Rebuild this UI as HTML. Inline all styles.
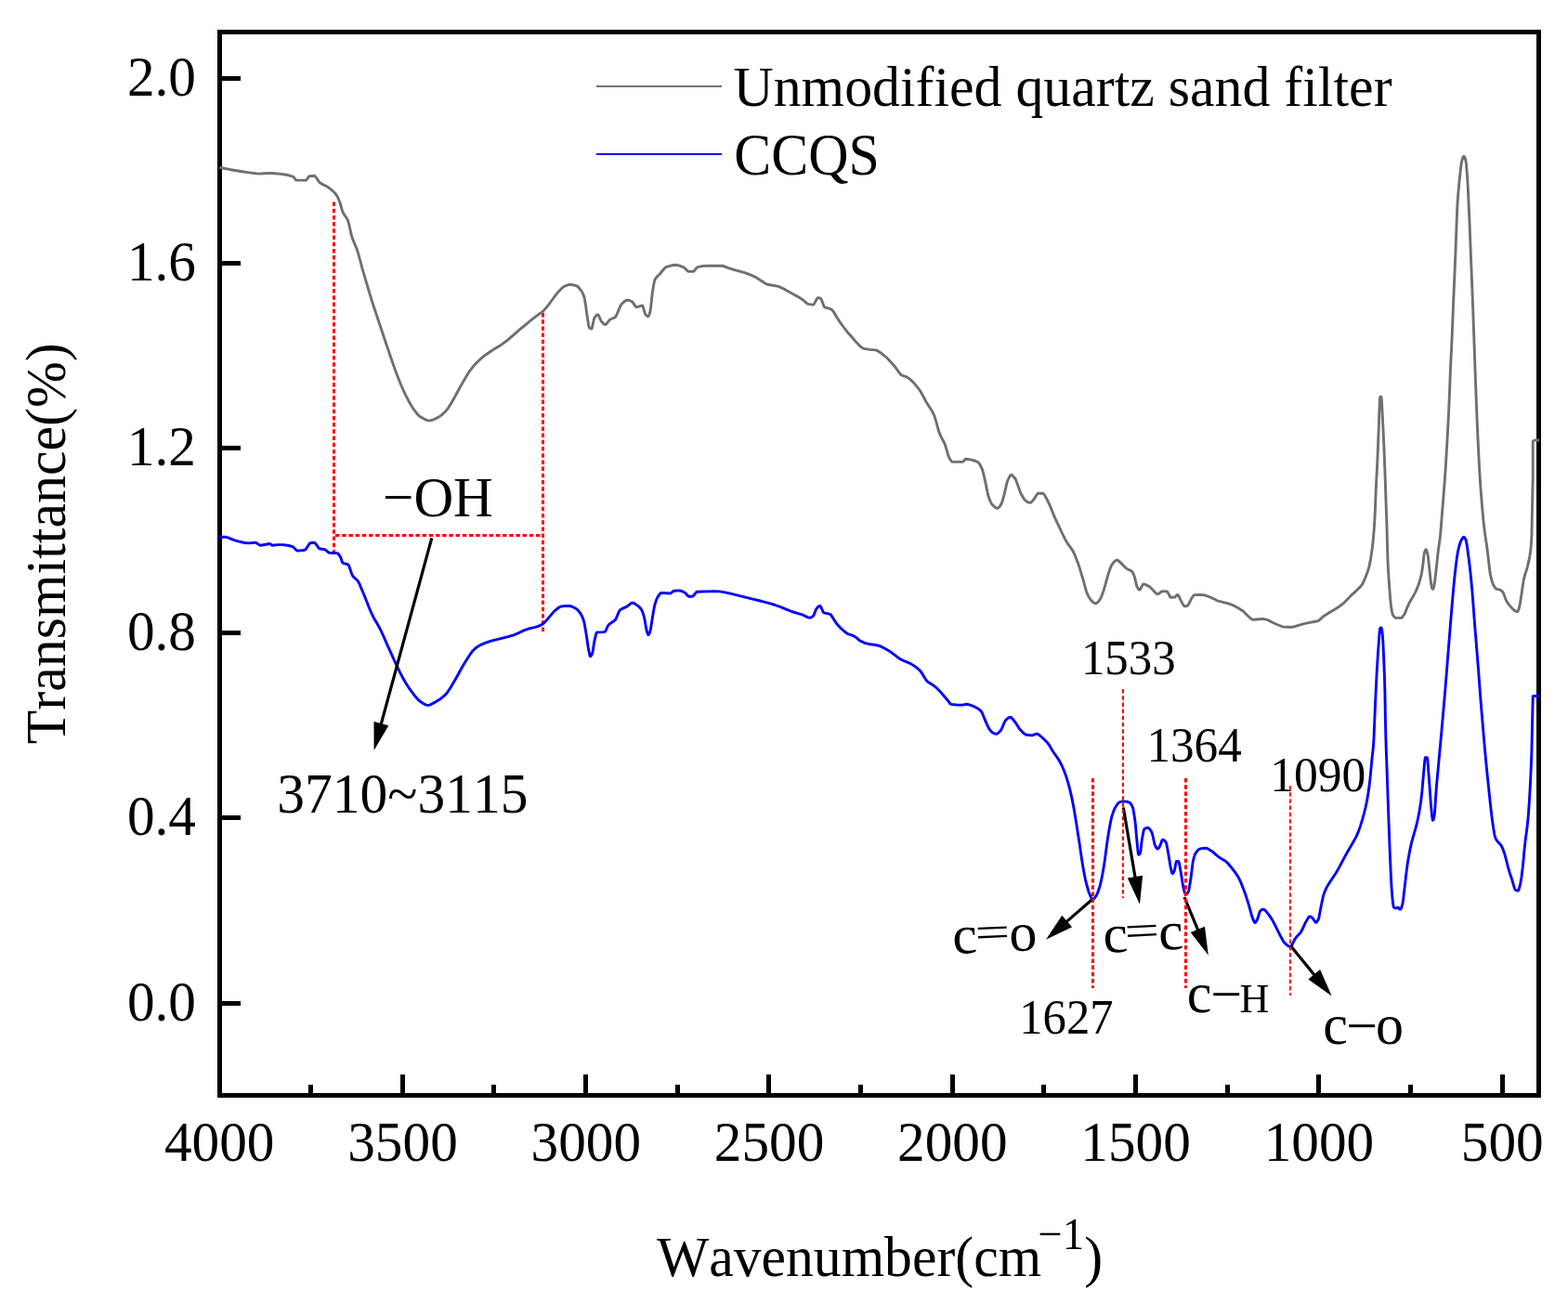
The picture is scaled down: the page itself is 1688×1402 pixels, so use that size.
<!DOCTYPE html><html><head><meta charset="utf-8"><title>FTIR</title><style>
html,body{margin:0;padding:0;background:#fff}svg{display:block}text{font-family:"Liberation Serif","Times New Roman",serif;fill:#000;font-kerning:none;font-variant-ligatures:none;white-space:pre}.b{font-weight:bold}
</style></head><body>
<svg width="1688" height="1402" viewBox="0 0 1688 1402">
<rect width="1688" height="1402" fill="#fff"/>
<g fill="#000" shape-rendering="crispEdges">
<rect x="234" y="32" width="1425" height="5"/><rect x="234" y="1177" width="1425" height="5"/><rect x="234" y="32" width="5" height="1150"/><rect x="1654" y="32" width="5" height="1150"/>
<rect x="239" y="1078" width="20" height="5"/>
<rect x="239" y="878" width="20" height="5"/>
<rect x="239" y="679" width="20" height="5"/>
<rect x="239" y="480" width="20" height="5"/>
<rect x="239" y="281" width="20" height="5"/>
<rect x="239" y="82" width="20" height="5"/>
<rect x="332" y="1168" width="5" height="9"/>
<rect x="431" y="1157" width="5" height="20"/>
<rect x="529" y="1168" width="5" height="9"/>
<rect x="628" y="1157" width="5" height="20"/>
<rect x="727" y="1168" width="5" height="9"/>
<rect x="825" y="1157" width="5" height="20"/>
<rect x="924" y="1168" width="5" height="9"/>
<rect x="1023" y="1157" width="5" height="20"/>
<rect x="1121" y="1168" width="5" height="9"/>
<rect x="1220" y="1157" width="5" height="20"/>
<rect x="1319" y="1168" width="5" height="9"/>
<rect x="1417" y="1157" width="5" height="20"/>
<rect x="1516" y="1168" width="5" height="9"/>
<rect x="1615" y="1157" width="5" height="20"/>
</g>
<text font-size="59" text-anchor="end" transform="translate(211,1098.5) scale(1.005,1.03)">0.0</text>
<text font-size="59" text-anchor="end" transform="translate(211,899.3) scale(1.005,1.03)">0.4</text>
<text font-size="59" text-anchor="end" transform="translate(211,700.1) scale(1.005,1.03)">0.8</text>
<text font-size="59" text-anchor="end" transform="translate(211,500.9) scale(1.005,1.03)">1.2</text>
<text font-size="59" text-anchor="end" transform="translate(211,301.7) scale(1.005,1.03)">1.6</text>
<text font-size="59" text-anchor="end" transform="translate(211,102.5) scale(1.005,1.03)">2.0</text>
<text font-size="59" text-anchor="middle" transform="translate(236.2,1249.5) scale(1.005,1.03)">4000</text>
<text font-size="59" text-anchor="middle" transform="translate(433.5,1249.5) scale(1.005,1.03)">3500</text>
<text font-size="59" text-anchor="middle" transform="translate(630.8,1249.5) scale(1.005,1.03)">3000</text>
<text font-size="59" text-anchor="middle" transform="translate(828.1,1249.5) scale(1.005,1.03)">2500</text>
<text font-size="59" text-anchor="middle" transform="translate(1025.3,1249.5) scale(1.005,1.03)">2000</text>
<text font-size="59" text-anchor="middle" transform="translate(1222.6,1249.5) scale(1.005,1.03)">1500</text>
<text font-size="59" text-anchor="middle" transform="translate(1419.9,1249.5) scale(1.005,1.03)">1000</text>
<text font-size="59" text-anchor="middle" transform="translate(1617.2,1249.5) scale(1.005,1.03)">500</text>
<text font-size="60" transform="translate(69.60,801.28) rotate(-90) scale(0.9974,1.0382)">Transmittance(%)</text>
<text font-size="60" transform="translate(789.54,114.40) scale(0.9967,1.0283)">Unmodified quartz sand filter</text>
<text font-size="60" transform="translate(790.34,187.50) scale(0.9983,1.0497)">CCQS</text>
<text font-size="60" transform="translate(412.05,556.20) scale(0.9857,1.0207)">−OH</text>
<text font-size="60" transform="translate(298.35,874.80) scale(0.9920,1.0371)">3710~3115</text>
<text font-size="51" transform="translate(1163.93,726.00) scale(0.9976,1.0454)">1533</text>
<text font-size="51" transform="translate(1234.40,819.90) scale(1.0039,1.0424)">1364</text>
<text font-size="51" transform="translate(1367.16,852.10) scale(1.0118,1.0467)">1090</text>
<text font-size="51" transform="translate(1097.25,1113.00) scale(0.9932,1.0424)">1627</text>
<text font-size="60" transform="translate(706.9,1374.4) scale(0.9947,1.0305)"><tspan x="0" y="0">Wavenumber(cm</tspan><tspan x="412.6" y="-28.3" font-size="47">−1</tspan><tspan x="462.9" y="0" font-size="60">)</tspan></text>
<text font-size="60" transform="translate(1426.6,1124.4) scale(1,1.01)"><tspan x="-2.28" y="0">c</tspan><tspan x="22.6" y="1.0">−</tspan><tspan x="54.3" y="0">o</tspan></text>
<text font-size="60" transform="translate(1280.1,1090.4) scale(1,1.01)"><tspan x="-2.28" y="0">c</tspan><tspan x="23.1" y="0.8">−</tspan><tspan x="54.4" y="0" font-size="44">H</tspan></text>
<text font-size="60" transform="translate(1039.4,1026.4) rotate(-2.5) scale(1,0.975)"><tspan x="-13.53" y="0">c</tspan><tspan x="11.05" y="-5.9" font-size="48" textLength="37.6" lengthAdjust="spacingAndGlyphs">=</tspan><tspan x="47.76" y="0">o</tspan></text>
<text font-size="60" transform="translate(1201.65,1025.4) rotate(-2.9) scale(1,0.975)"><tspan x="-13.53" y="0">c</tspan><tspan x="9.95" y="-6.3" font-size="48" textLength="37.6" lengthAdjust="spacingAndGlyphs">=</tspan><tspan x="46.45" y="0">c</tspan></text>
<g shape-rendering="crispEdges"><rect x="642" y="92" width="135" height="2" fill="#6f6f6f"/><rect x="642" y="165" width="135" height="2" fill="#0000ff"/></g>
<g stroke="#ff0000" fill="none">
<line x1="359.5" y1="217.5" x2="359.5" y2="599" stroke-width="3" stroke-dasharray="4.5 2.7"/>
<line x1="584.5" y1="337" x2="584.5" y2="681" stroke-width="3" stroke-dasharray="4.5 2.7"/>
<line x1="361" y1="576.5" x2="586" y2="576.5" stroke-width="3" stroke-dasharray="4.5 2.7"/>
</g>
<path d="M236.4,180.3 L242.4,181.5 L248.4,182.7 L254.4,183.7 L260.4,184.7 L266.4,185.6 L272.4,186.4 L278.4,187.1 L284.4,186.8 L290.4,186.4 L296.4,186.8 L302.4,187.4 L308.4,188.2 L314.4,189.8 L315.9,190.5 L316.9,191.7 L318.4,193.7 L318.9,194.0 L324.9,194.1 L328.9,194.1 L329.4,194.0 L329.9,193.6 L332.4,190.3 L332.9,189.8 L333.4,189.6 L337.9,189.2 L338.4,189.3 L338.9,189.6 L339.9,190.5 L343.4,195.6 L344.4,196.8 L346.4,198.1 L351.9,200.8 L356.9,204.4 L360.9,208.3 L362.4,210.3 L363.9,213.1 L365.9,218.0 L367.9,225.0 L368.9,228.0 L369.9,230.1 L373.4,235.2 L374.4,237.2 L374.9,238.5 L376.4,244.5 L377.9,251.4 L378.9,255.2 L381.4,261.6 L383.9,267.5 L385.9,273.8 L387.9,281.2 L389.9,288.8 L391.9,295.7 L393.9,302.3 L395.9,309.0 L397.9,315.8 L399.9,322.5 L401.9,328.8 L403.9,334.8 L405.9,340.8 L407.9,346.7 L409.9,352.7 L411.9,358.7 L413.9,364.8 L415.9,370.7 L417.9,376.6 L419.9,382.5 L421.9,388.3 L423.9,394.1 L426.4,401.1 L428.9,407.6 L431.4,413.7 L433.9,419.5 L436.9,425.9 L439.9,431.7 L442.9,437.0 L446.4,442.2 L449.9,446.6 L451.9,448.5 L457.4,451.6 L460.4,452.7 L462.9,452.9 L465.9,452.2 L471.4,449.6 L475.4,447.0 L479.9,442.6 L482.9,438.8 L486.4,432.9 L489.4,427.7 L492.4,422.3 L495.4,416.7 L498.4,411.4 L501.9,405.4 L505.4,399.8 L509.4,394.6 L513.9,389.7 L518.4,385.6 L523.4,381.7 L528.4,378.2 L533.9,374.8 L539.4,371.4 L544.4,367.8 L549.4,363.7 L554.4,359.3 L559.4,354.9 L564.4,350.8 L569.4,346.7 L574.4,342.7 L579.4,338.9 L584.4,335.4 L588.9,330.3 L592.9,325.0 L596.9,319.5 L600.9,314.4 L605.4,309.8 L607.4,308.3 L611.9,306.6 L614.4,306.3 L619.9,307.5 L620.9,307.9 L622.4,309.0 L625.4,312.6 L626.9,315.0 L627.9,317.2 L628.9,320.0 L629.4,321.8 L630.4,327.9 L631.4,335.5 L632.4,342.1 L633.4,348.9 L633.9,351.6 L634.4,353.0 L635.4,353.6 L636.4,354.0 L636.9,354.0 L637.4,353.0 L638.9,346.0 L639.4,343.8 L639.9,342.4 L641.4,340.2 L642.4,339.2 L642.9,338.9 L643.4,338.8 L643.9,339.0 L644.4,339.6 L646.9,345.2 L647.4,346.1 L649.4,348.3 L650.4,349.1 L650.9,349.4 L651.4,349.5 L651.9,349.4 L652.4,349.2 L653.4,348.2 L655.9,344.9 L656.9,344.0 L661.4,342.0 L662.4,341.3 L663.4,340.0 L665.9,334.2 L667.9,329.4 L668.9,327.7 L672.4,324.4 L673.9,323.5 L674.9,323.2 L676.4,323.2 L679.9,324.5 L680.4,324.8 L681.4,325.9 L683.9,329.6 L684.4,330.1 L684.9,330.5 L685.4,330.6 L686.9,330.3 L690.4,329.1 L691.4,329.0 L691.9,329.6 L692.4,330.8 L694.4,337.7 L694.9,338.8 L695.9,339.8 L696.9,340.4 L697.4,340.6 L697.9,340.6 L698.4,340.0 L698.9,338.9 L699.9,335.4 L700.4,332.8 L701.4,323.5 L701.9,318.7 L702.9,311.6 L703.9,305.5 L704.4,303.2 L704.9,301.5 L705.9,299.7 L707.4,297.8 L710.4,295.0 L714.4,290.0 L715.9,288.4 L716.9,287.7 L722.9,285.8 L727.4,285.3 L730.9,285.9 L736.4,288.1 L737.4,288.9 L739.9,291.6 L740.9,292.3 L745.9,292.4 L746.4,292.3 L746.9,292.0 L747.9,291.0 L749.9,288.5 L750.9,287.6 L756.9,286.4 L762.9,286.2 L769.4,286.2 L775.9,286.2 L778.4,286.3 L784.4,288.6 L790.4,290.7 L796.4,292.2 L802.4,293.9 L808.4,296.1 L813.9,298.8 L819.4,302.2 L823.9,305.3 L825.9,306.2 L831.9,307.3 L837.9,308.4 L843.4,310.8 L848.9,314.0 L854.4,317.0 L859.9,320.1 L864.4,322.9 L868.9,326.9 L869.9,327.4 L874.9,328.1 L875.4,328.1 L875.9,327.8 L876.4,327.3 L879.4,321.6 L879.9,321.0 L880.4,320.6 L881.4,320.7 L883.4,321.4 L883.9,321.9 L884.9,324.1 L886.9,329.5 L887.4,330.4 L887.9,330.9 L893.9,332.7 L894.9,333.1 L895.9,333.9 L897.4,335.7 L900.9,341.8 L904.4,347.1 L908.4,352.5 L912.4,357.7 L916.4,362.2 L920.4,366.9 L924.9,371.8 L927.9,374.3 L929.9,375.4 L935.9,376.4 L941.9,376.9 L943.9,377.3 L949.4,380.8 L954.4,385.0 L958.9,389.7 L962.9,394.2 L966.9,399.7 L968.9,402.4 L969.9,403.4 L971.4,404.3 L975.9,405.8 L979.4,408.1 L983.9,412.4 L987.9,417.3 L990.9,421.4 L993.9,426.8 L996.9,432.4 L1000.4,438.0 L1003.9,443.6 L1005.9,447.9 L1007.9,454.4 L1009.9,461.8 L1011.4,466.6 L1013.4,471.0 L1016.4,476.5 L1017.4,478.9 L1019.4,485.5 L1020.9,490.6 L1021.9,493.2 L1023.9,496.2 L1024.9,497.2 L1025.4,497.4 L1031.4,497.4 L1035.9,497.4 L1036.4,497.2 L1037.4,496.4 L1039.4,494.4 L1039.9,494.2 L1045.9,495.1 L1050.4,496.5 L1052.9,497.8 L1053.9,498.8 L1055.4,501.1 L1057.4,505.3 L1058.4,508.6 L1059.9,515.1 L1061.4,521.9 L1062.9,529.5 L1063.9,533.9 L1065.9,539.3 L1067.4,542.2 L1068.4,543.7 L1071.4,546.4 L1072.9,547.2 L1073.9,547.3 L1074.4,547.2 L1075.4,546.4 L1077.4,543.7 L1077.9,542.8 L1078.9,540.3 L1080.9,533.1 L1082.4,526.9 L1083.9,520.1 L1084.4,518.4 L1086.4,514.0 L1087.4,512.4 L1087.9,511.8 L1088.4,511.5 L1088.9,511.4 L1089.4,511.5 L1090.4,512.3 L1092.9,515.5 L1093.9,517.4 L1096.4,524.4 L1098.4,530.1 L1101.4,535.8 L1102.9,538.0 L1103.9,539.1 L1106.9,540.9 L1108.4,541.4 L1108.9,541.4 L1109.4,541.3 L1110.4,540.6 L1113.9,536.3 L1116.4,532.2 L1116.9,531.7 L1117.4,531.3 L1122.4,531.2 L1122.9,531.4 L1123.4,531.7 L1124.4,532.9 L1127.4,538.3 L1129.9,543.5 L1132.4,549.8 L1134.9,555.9 L1137.4,561.4 L1140.4,567.7 L1143.4,574.0 L1146.4,580.2 L1149.4,585.4 L1153.4,590.8 L1155.4,594.1 L1157.9,599.7 L1160.4,606.1 L1162.4,612.1 L1164.4,618.8 L1166.4,625.5 L1168.4,633.0 L1169.9,638.1 L1171.9,642.4 L1173.9,645.6 L1176.9,648.6 L1178.4,649.6 L1179.4,649.8 L1179.9,649.7 L1180.9,649.2 L1182.9,647.2 L1184.4,645.2 L1185.9,642.0 L1188.4,634.9 L1190.4,627.8 L1192.4,620.4 L1194.4,614.2 L1195.9,610.1 L1196.9,608.1 L1199.4,605.0 L1200.9,603.7 L1201.9,603.2 L1202.4,603.1 L1202.9,603.1 L1203.9,603.6 L1208.4,607.9 L1211.9,611.6 L1213.9,612.9 L1217.4,614.5 L1218.4,615.2 L1218.9,615.7 L1219.9,617.4 L1221.4,621.2 L1222.9,627.7 L1223.4,629.8 L1223.9,631.4 L1225.4,634.1 L1225.9,634.8 L1226.4,635.1 L1226.9,635.2 L1227.4,634.8 L1228.4,633.1 L1229.9,630.1 L1230.4,629.3 L1230.9,628.9 L1232.4,629.1 L1237.4,631.6 L1238.9,632.9 L1243.4,637.7 L1244.9,639.1 L1245.9,639.6 L1246.4,639.6 L1247.4,639.3 L1250.4,637.0 L1251.4,636.6 L1255.9,636.9 L1256.4,637.0 L1256.9,637.5 L1259.4,642.1 L1259.9,642.8 L1260.4,643.2 L1264.4,643.1 L1264.9,642.9 L1266.9,640.8 L1267.4,640.6 L1267.9,640.5 L1268.4,641.0 L1269.4,642.7 L1270.9,646.1 L1273.9,651.4 L1274.9,652.6 L1275.4,652.9 L1276.4,652.9 L1278.4,652.1 L1278.9,651.7 L1279.9,650.1 L1282.4,644.9 L1284.9,641.4 L1285.4,641.0 L1285.9,640.6 L1291.9,640.5 L1295.9,640.6 L1301.9,642.6 L1307.4,645.3 L1310.4,646.8 L1316.4,648.3 L1322.4,649.8 L1328.4,652.2 L1333.9,655.2 L1338.4,658.3 L1342.9,662.8 L1346.4,666.0 L1347.9,666.9 L1349.4,667.3 L1355.4,666.8 L1359.9,666.4 L1364.9,667.6 L1370.4,670.5 L1375.9,673.0 L1380.9,674.9 L1386.9,675.3 L1391.9,675.2 L1397.9,673.3 L1403.9,671.6 L1409.9,670.4 L1415.9,669.3 L1418.9,668.5 L1420.9,667.2 L1425.4,663.2 L1430.9,659.8 L1436.4,656.5 L1441.9,653.0 L1446.9,649.1 L1451.4,644.5 L1455.9,639.8 L1460.4,635.8 L1464.4,631.9 L1466.4,629.3 L1467.4,627.6 L1469.9,621.7 L1472.4,615.3 L1473.9,610.1 L1475.4,602.7 L1476.4,596.4 L1477.4,589.1 L1478.4,579.8 L1479.4,567.2 L1479.9,558.7 L1480.4,548.9 L1480.9,535.6 L1481.4,524.0 L1481.9,514.3 L1482.4,505.1 L1482.9,494.8 L1483.4,482.6 L1483.9,469.4 L1484.4,456.7 L1484.9,441.8 L1485.4,429.7 L1485.9,427.1 L1486.9,427.1 L1487.4,430.6 L1487.9,440.6 L1488.4,450.4 L1488.9,460.0 L1489.4,470.4 L1489.9,481.6 L1490.4,494.0 L1490.9,507.2 L1491.4,521.3 L1491.9,536.5 L1492.4,551.0 L1492.9,564.0 L1493.4,583.6 L1493.9,601.4 L1494.4,612.1 L1494.9,620.6 L1495.4,627.8 L1495.9,634.7 L1496.4,641.3 L1497.4,651.9 L1498.4,658.2 L1498.9,660.5 L1499.4,662.0 L1500.9,664.2 L1501.9,665.0 L1502.4,665.3 L1508.4,665.4 L1508.9,665.3 L1509.4,664.9 L1511.4,662.2 L1512.4,660.4 L1514.9,654.2 L1516.9,649.6 L1520.4,643.7 L1523.4,638.4 L1525.9,632.7 L1527.9,627.2 L1529.9,619.9 L1530.9,614.5 L1531.9,607.6 L1532.9,598.0 L1533.4,595.0 L1534.4,592.4 L1534.9,591.8 L1535.4,591.9 L1535.9,593.0 L1536.9,596.8 L1537.4,599.7 L1538.4,608.7 L1539.4,618.4 L1540.4,626.7 L1540.9,630.5 L1541.4,632.7 L1541.9,633.8 L1542.4,634.4 L1542.9,634.2 L1543.4,632.5 L1544.4,627.6 L1545.4,619.8 L1546.4,610.5 L1547.4,601.2 L1548.4,592.0 L1549.4,585.4 L1550.4,578.3 L1551.4,566.5 L1551.9,559.8 L1552.4,553.6 L1552.9,547.5 L1553.4,541.4 L1553.9,535.3 L1554.4,529.0 L1554.9,522.4 L1555.4,515.6 L1555.9,508.3 L1556.4,500.6 L1556.9,492.5 L1557.4,484.0 L1557.9,475.3 L1558.4,466.3 L1558.9,456.9 L1559.4,447.1 L1559.9,436.7 L1560.4,425.4 L1560.9,412.4 L1561.4,399.4 L1561.9,387.8 L1562.4,378.8 L1562.9,368.5 L1563.4,356.5 L1563.9,343.7 L1564.4,331.1 L1564.9,319.1 L1565.4,307.6 L1565.9,296.2 L1566.4,284.6 L1566.9,272.7 L1567.4,259.4 L1567.9,245.1 L1568.4,231.7 L1568.9,220.9 L1569.4,213.3 L1569.9,206.8 L1570.9,196.2 L1571.9,187.1 L1572.9,178.2 L1573.4,174.7 L1573.9,172.5 L1574.9,169.4 L1575.4,168.5 L1575.9,168.3 L1576.4,168.7 L1576.9,169.7 L1577.9,172.8 L1578.4,176.0 L1579.4,188.2 L1579.9,195.4 L1580.4,204.4 L1580.9,214.8 L1581.4,225.9 L1581.9,237.3 L1582.4,249.8 L1582.9,262.6 L1583.4,275.2 L1583.9,287.4 L1584.4,299.6 L1584.9,312.1 L1585.4,325.2 L1585.9,338.8 L1586.4,352.6 L1586.9,366.6 L1587.4,380.6 L1587.9,395.0 L1588.4,409.2 L1588.9,422.5 L1589.4,435.4 L1589.9,447.7 L1590.4,459.2 L1590.9,470.2 L1591.4,480.9 L1591.9,491.1 L1592.4,500.7 L1592.9,509.5 L1593.4,517.3 L1593.9,524.6 L1594.4,531.3 L1594.9,537.7 L1595.4,543.7 L1596.4,555.0 L1597.4,565.0 L1598.4,573.1 L1599.4,580.1 L1600.4,586.7 L1601.4,594.1 L1602.4,602.9 L1603.4,611.8 L1604.4,618.8 L1605.9,624.9 L1607.4,629.2 L1608.9,632.0 L1609.9,633.4 L1610.4,633.9 L1611.4,634.4 L1614.9,635.2 L1615.9,635.7 L1616.9,636.6 L1617.9,637.8 L1618.4,638.6 L1619.4,641.0 L1620.9,645.4 L1621.9,647.5 L1624.4,651.1 L1628.9,656.1 L1630.9,657.8 L1631.9,658.3 L1632.9,658.6 L1633.4,658.6 L1633.9,658.1 L1634.9,656.1 L1635.4,654.7 L1636.4,649.7 L1637.4,643.5 L1638.4,637.1 L1639.4,629.8 L1640.4,623.8 L1641.4,619.8 L1643.4,613.6 L1644.4,610.1 L1645.9,603.7 L1646.9,598.5 L1647.9,591.4 L1648.4,585.8 L1648.9,577.5 L1650.2,512.7 L1650.2,475.2 L1652.0,474.0 L1657.0,474.0" fill="none" stroke="#6f6f6f" stroke-width="2.9" stroke-linejoin="round"/>
<path d="M236.4,578.3 L242.9,578.3 L245.4,578.9 L251.4,581.4 L257.4,583.1 L263.4,584.5 L268.4,584.9 L274.4,584.2 L275.4,584.3 L279.4,586.9 L280.4,587.3 L286.4,586.2 L289.9,585.5 L290.9,585.6 L292.9,587.2 L298.9,586.6 L304.9,586.6 L310.9,587.5 L314.9,588.6 L315.9,589.2 L318.9,592.3 L319.9,592.9 L320.4,593.1 L326.4,592.5 L328.4,592.0 L328.9,591.6 L329.9,590.4 L332.9,585.7 L333.4,585.1 L333.9,584.8 L337.9,584.2 L338.4,584.3 L338.9,584.6 L339.9,585.7 L342.9,589.9 L343.4,590.4 L343.9,590.7 L349.4,591.7 L350.4,592.1 L353.4,594.7 L354.4,595.2 L360.4,595.5 L362.9,595.6 L363.4,595.8 L363.9,596.1 L364.9,597.3 L366.4,599.7 L366.9,600.8 L368.4,605.2 L368.9,606.1 L369.9,606.7 L373.9,607.5 L374.4,607.8 L374.9,608.1 L375.4,608.9 L376.4,611.3 L378.4,617.2 L379.4,619.6 L380.4,621.1 L384.4,624.6 L385.4,625.9 L386.9,628.6 L389.4,634.6 L391.9,640.5 L394.4,646.8 L396.9,653.2 L399.4,659.2 L402.4,665.4 L405.9,671.3 L408.9,676.7 L411.9,683.0 L414.4,688.7 L416.9,694.3 L419.4,699.9 L421.9,705.4 L424.4,711.0 L427.4,717.3 L430.4,723.6 L433.4,729.5 L436.4,734.8 L439.9,740.3 L443.4,745.2 L447.4,750.3 L450.9,754.2 L455.9,757.7 L458.9,759.1 L460.9,759.4 L462.4,759.2 L467.9,756.4 L473.4,753.1 L478.4,749.1 L480.9,746.5 L484.4,741.4 L487.9,735.6 L491.4,729.5 L494.4,724.0 L497.4,718.6 L500.9,712.8 L504.4,707.3 L507.9,702.0 L512.4,697.5 L516.9,694.6 L522.9,692.2 L528.9,690.2 L534.9,688.6 L540.9,687.1 L546.9,685.6 L552.9,683.8 L558.9,681.3 L564.4,678.6 L570.4,676.6 L576.4,675.3 L581.9,673.3 L584.9,671.5 L589.4,666.7 L593.4,661.9 L596.9,657.9 L601.9,654.0 L603.9,653.0 L609.9,652.4 L613.4,652.5 L616.4,653.4 L620.4,655.6 L622.4,657.4 L624.9,660.5 L626.4,663.2 L627.9,666.9 L628.9,670.3 L630.4,678.5 L631.4,684.6 L632.4,691.7 L633.4,698.4 L634.9,705.6 L635.4,706.8 L635.9,706.6 L636.4,706.0 L637.4,704.0 L637.9,702.6 L638.4,700.0 L639.4,693.2 L639.9,690.3 L641.4,683.8 L641.9,682.1 L642.4,681.1 L642.9,680.9 L648.9,680.6 L650.9,680.4 L651.4,680.1 L652.4,678.4 L654.4,674.1 L654.9,673.3 L656.4,671.8 L660.9,668.8 L662.4,667.4 L663.4,665.7 L665.9,659.6 L666.9,657.6 L667.4,657.0 L669.4,655.6 L674.9,653.2 L679.4,649.6 L680.4,649.2 L681.4,649.1 L682.4,649.4 L687.4,652.9 L689.4,654.9 L690.9,657.0 L691.9,659.3 L693.4,664.4 L693.9,666.6 L695.4,675.4 L695.9,677.9 L696.9,681.5 L697.4,682.9 L697.9,683.6 L698.4,683.4 L698.9,682.5 L699.9,679.7 L700.4,677.9 L701.4,671.6 L702.4,664.8 L703.9,656.1 L704.9,651.3 L706.4,646.5 L707.9,643.0 L709.9,640.1 L710.9,639.0 L711.4,638.6 L711.9,638.4 L717.9,638.8 L721.4,639.0 L721.9,638.8 L724.9,636.6 L725.4,636.3 L731.4,635.9 L733.9,636.5 L737.4,638.2 L738.4,639.2 L740.4,641.5 L740.9,641.9 L741.4,642.2 L745.4,642.2 L745.9,642.0 L746.9,641.0 L749.4,637.9 L749.9,637.5 L750.4,637.2 L756.4,637.0 L762.4,636.9 L768.4,636.8 L774.4,636.9 L780.4,637.9 L786.4,639.2 L792.4,640.6 L798.4,642.1 L804.4,643.6 L810.4,645.1 L816.4,646.5 L822.4,648.1 L828.4,649.7 L834.4,651.5 L840.4,653.7 L846.4,656.2 L852.4,658.5 L858.4,660.3 L864.4,662.2 L869.9,664.9 L871.4,665.2 L872.4,665.1 L873.9,664.5 L875.4,663.4 L875.9,662.7 L878.4,656.4 L878.9,655.5 L880.9,653.3 L881.9,652.6 L882.4,652.4 L882.9,652.5 L883.4,653.0 L884.4,655.0 L885.9,658.5 L886.4,659.3 L886.9,659.8 L892.9,661.2 L893.9,661.6 L894.9,662.6 L898.4,668.1 L900.4,671.3 L904.9,676.2 L909.4,680.3 L912.9,682.7 L918.9,684.7 L920.9,685.9 L925.4,689.7 L930.9,692.4 L936.9,693.8 L942.9,694.5 L947.9,695.9 L953.4,698.8 L958.9,702.1 L963.9,705.8 L968.9,709.6 L974.4,712.2 L980.4,714.6 L985.9,718.2 L990.4,722.2 L991.9,724.0 L995.4,729.7 L997.4,732.7 L998.9,734.3 L1004.4,737.7 L1008.4,740.9 L1012.9,745.6 L1016.9,750.2 L1019.9,753.7 L1022.4,757.1 L1023.4,758.1 L1023.9,758.4 L1029.9,759.0 L1035.9,759.1 L1039.9,758.3 L1042.4,758.5 L1048.4,760.7 L1052.4,762.7 L1055.4,765.1 L1056.4,766.1 L1057.4,767.8 L1059.9,774.2 L1062.4,779.8 L1064.9,784.8 L1066.9,787.5 L1068.4,788.9 L1070.9,790.0 L1072.4,790.3 L1073.4,790.1 L1074.4,789.5 L1077.4,786.4 L1078.4,784.7 L1080.9,778.7 L1081.9,776.6 L1082.4,775.7 L1084.9,773.4 L1086.4,772.5 L1087.4,772.3 L1087.9,772.4 L1088.9,772.9 L1090.4,774.5 L1093.9,779.1 L1097.4,784.7 L1101.9,789.5 L1103.9,790.9 L1104.9,791.3 L1110.4,791.9 L1111.4,791.8 L1114.9,790.3 L1115.9,790.1 L1116.9,790.3 L1118.4,791.2 L1123.4,795.5 L1127.9,800.1 L1129.9,802.9 L1132.9,808.2 L1136.4,813.3 L1139.9,818.4 L1142.9,824.0 L1145.4,829.7 L1147.9,836.6 L1149.9,843.2 L1151.9,850.7 L1153.4,857.1 L1154.9,864.4 L1156.4,872.6 L1157.4,878.6 L1158.4,884.8 L1159.4,891.1 L1160.4,897.4 L1161.4,904.0 L1162.4,910.5 L1163.4,917.3 L1164.4,924.2 L1165.4,930.7 L1166.9,939.2 L1168.4,946.8 L1169.9,953.0 L1171.9,960.0 L1174.4,966.1 L1175.4,967.9 L1175.9,968.4 L1176.4,968.5 L1176.9,968.3 L1177.9,967.5 L1179.9,964.9 L1181.4,961.9 L1183.9,954.8 L1185.4,948.7 L1186.9,941.1 L1188.4,932.5 L1189.4,925.8 L1190.4,918.2 L1191.4,910.5 L1192.4,903.5 L1193.4,897.3 L1194.4,891.3 L1195.9,883.3 L1196.9,879.1 L1198.9,873.1 L1200.4,869.7 L1202.9,866.0 L1204.4,864.3 L1205.4,863.6 L1208.9,862.9 L1212.9,863.2 L1215.9,864.1 L1216.4,864.4 L1217.4,865.5 L1218.4,867.2 L1219.4,869.5 L1219.9,871.2 L1220.9,876.7 L1221.9,883.9 L1222.4,888.2 L1223.4,899.8 L1224.4,910.5 L1224.9,915.9 L1225.4,919.6 L1225.9,920.3 L1226.4,920.0 L1226.9,919.4 L1227.4,918.7 L1227.9,916.6 L1228.9,907.4 L1229.9,900.9 L1230.9,895.5 L1231.4,893.6 L1231.9,892.7 L1233.4,891.8 L1234.9,891.3 L1235.9,891.4 L1236.4,891.6 L1237.4,892.4 L1239.4,895.3 L1239.9,896.2 L1240.4,897.5 L1241.9,904.3 L1242.9,908.8 L1243.4,910.3 L1244.9,913.0 L1245.4,913.7 L1245.9,914.0 L1246.4,914.1 L1246.9,913.7 L1247.9,912.3 L1248.9,910.5 L1249.4,909.3 L1250.4,906.2 L1250.9,905.0 L1251.4,904.3 L1251.9,904.3 L1252.9,904.7 L1253.9,905.5 L1254.9,906.6 L1255.4,907.5 L1255.9,909.2 L1257.4,917.2 L1258.9,926.2 L1259.9,932.6 L1261.4,939.2 L1261.9,940.5 L1262.4,940.8 L1262.9,940.3 L1263.9,938.4 L1264.4,937.0 L1265.9,929.4 L1266.4,927.8 L1266.9,927.5 L1268.4,927.5 L1268.9,927.9 L1269.4,929.5 L1270.9,937.4 L1271.9,943.2 L1272.9,950.1 L1273.4,953.2 L1274.9,959.6 L1275.4,961.3 L1275.9,962.5 L1276.4,963.1 L1276.9,963.0 L1277.4,962.8 L1278.4,961.7 L1279.4,960.1 L1279.9,958.3 L1281.4,949.4 L1282.4,942.6 L1283.4,934.1 L1283.9,930.1 L1284.4,927.1 L1285.4,923.1 L1286.4,920.1 L1286.9,919.0 L1288.9,916.3 L1290.4,914.8 L1291.9,913.9 L1297.9,913.2 L1299.4,913.5 L1304.9,916.7 L1309.9,921.1 L1313.4,923.8 L1318.9,927.0 L1321.9,929.7 L1325.9,934.5 L1329.9,939.6 L1332.9,944.2 L1335.9,950.4 L1338.4,956.7 L1340.9,963.6 L1342.9,969.7 L1344.9,976.3 L1346.9,983.7 L1347.9,987.3 L1349.9,992.1 L1350.4,992.9 L1350.9,993.4 L1351.4,993.5 L1351.9,993.0 L1352.9,991.2 L1354.4,987.6 L1355.9,982.4 L1356.4,981.3 L1357.9,979.9 L1358.9,979.3 L1359.9,979.2 L1360.9,979.5 L1362.4,980.6 L1366.4,985.6 L1369.4,990.1 L1372.4,995.8 L1375.4,1001.8 L1378.4,1007.8 L1381.4,1013.2 L1382.9,1015.4 L1386.4,1018.4 L1387.9,1019.1 L1388.9,1019.3 L1389.4,1019.2 L1389.9,1018.8 L1390.9,1017.5 L1393.9,1011.4 L1395.9,1008.7 L1399.9,1004.4 L1401.4,1002.1 L1403.9,996.6 L1405.4,993.4 L1408.4,988.2 L1408.9,987.5 L1409.4,987.1 L1409.9,986.9 L1410.4,986.9 L1411.4,987.4 L1412.9,988.5 L1413.4,989.0 L1415.4,992.3 L1415.9,992.9 L1416.4,993.3 L1416.9,993.2 L1417.4,992.9 L1418.4,991.5 L1419.4,989.5 L1419.9,987.8 L1421.4,979.7 L1422.9,972.2 L1424.4,965.2 L1425.4,961.8 L1427.9,956.1 L1431.4,950.3 L1434.9,945.0 L1438.4,939.7 L1441.4,934.4 L1444.4,928.7 L1447.4,923.1 L1450.4,917.8 L1453.9,911.8 L1456.9,906.5 L1459.9,901.1 L1462.4,895.4 L1464.4,889.6 L1466.4,883.2 L1468.4,876.1 L1469.9,870.1 L1471.4,863.0 L1472.9,854.3 L1473.9,847.3 L1474.9,839.1 L1475.9,828.6 L1476.9,817.8 L1477.9,808.9 L1478.4,803.8 L1478.9,796.5 L1479.4,785.0 L1479.9,773.1 L1480.4,760.9 L1480.9,749.7 L1481.4,739.2 L1481.9,729.3 L1482.4,720.1 L1482.9,711.8 L1483.4,704.0 L1483.9,696.8 L1484.4,690.3 L1484.9,683.3 L1485.4,677.7 L1485.9,676.3 L1486.4,676.0 L1486.9,675.9 L1487.4,676.9 L1487.9,680.2 L1488.4,684.7 L1488.9,692.5 L1489.4,702.7 L1489.9,714.1 L1490.4,727.6 L1490.9,745.1 L1491.4,774.6 L1491.9,796.1 L1492.4,811.0 L1492.9,824.3 L1493.4,838.8 L1493.9,853.5 L1494.4,867.8 L1494.9,881.8 L1495.4,895.6 L1495.9,909.0 L1496.4,921.4 L1496.9,932.9 L1497.4,943.9 L1497.9,953.3 L1498.4,960.1 L1498.9,966.1 L1499.4,971.3 L1499.9,975.1 L1500.4,976.8 L1501.4,977.6 L1502.4,977.9 L1502.9,978.0 L1503.4,977.8 L1504.4,977.2 L1504.9,977.1 L1505.4,977.4 L1506.4,978.7 L1506.9,979.2 L1507.4,979.3 L1507.9,978.8 L1508.4,977.9 L1509.4,975.2 L1509.9,973.4 L1510.4,970.3 L1511.4,961.9 L1512.4,953.4 L1513.4,944.7 L1514.4,936.2 L1515.4,929.0 L1516.4,922.9 L1517.9,914.9 L1519.4,908.1 L1520.9,902.3 L1522.9,895.6 L1524.9,888.5 L1526.4,881.8 L1527.9,874.1 L1528.9,868.1 L1529.9,861.1 L1530.9,851.9 L1531.9,840.0 L1532.9,829.0 L1533.9,818.0 L1534.4,815.7 L1535.9,815.7 L1536.4,815.8 L1536.9,818.7 L1537.9,831.9 L1538.4,839.1 L1538.9,845.5 L1539.4,852.4 L1539.9,859.5 L1540.4,866.2 L1541.4,876.5 L1541.9,880.9 L1542.4,883.3 L1542.9,883.0 L1543.4,881.6 L1543.9,879.6 L1544.4,876.2 L1544.9,869.7 L1545.4,861.7 L1545.9,853.8 L1546.4,847.3 L1547.4,836.0 L1548.4,825.3 L1549.4,814.5 L1550.4,803.7 L1551.4,792.8 L1552.4,781.7 L1553.4,770.5 L1554.4,759.1 L1555.4,747.5 L1556.4,735.4 L1556.9,729.3 L1557.4,723.0 L1557.9,716.8 L1558.4,710.5 L1558.9,704.2 L1559.4,698.0 L1559.9,691.7 L1560.4,685.4 L1560.9,679.1 L1561.4,672.8 L1561.9,666.6 L1562.4,660.6 L1563.4,648.9 L1564.4,637.2 L1565.4,626.3 L1566.4,616.7 L1567.4,608.2 L1568.4,600.4 L1569.4,594.1 L1570.9,587.8 L1572.4,583.3 L1573.4,581.2 L1574.9,578.9 L1575.4,578.4 L1575.9,578.3 L1576.4,578.6 L1576.9,579.2 L1577.9,581.0 L1578.4,582.6 L1579.4,588.4 L1580.4,595.7 L1581.4,603.1 L1582.4,611.6 L1583.4,621.0 L1584.4,631.4 L1585.4,643.4 L1585.9,649.9 L1586.4,656.6 L1586.9,663.4 L1587.4,670.0 L1587.9,676.3 L1588.4,682.5 L1588.9,688.7 L1589.4,694.8 L1589.9,700.9 L1590.4,707.1 L1590.9,713.3 L1591.4,719.7 L1591.9,726.2 L1592.4,732.9 L1592.9,739.6 L1593.4,746.3 L1593.9,752.7 L1594.4,759.0 L1594.9,765.0 L1595.9,776.8 L1596.9,788.5 L1597.9,800.1 L1598.9,811.4 L1599.9,822.0 L1600.9,832.1 L1601.9,841.9 L1602.9,851.3 L1603.9,860.9 L1604.9,870.4 L1605.9,879.0 L1606.9,886.2 L1607.9,893.0 L1608.9,898.8 L1609.4,900.9 L1609.9,902.4 L1610.9,904.4 L1612.4,906.4 L1615.4,909.5 L1616.4,910.9 L1617.9,914.2 L1619.9,920.0 L1621.9,927.5 L1623.4,933.6 L1625.4,940.4 L1627.4,946.1 L1629.4,953.1 L1630.4,956.5 L1630.9,957.7 L1631.4,958.3 L1632.9,959.0 L1633.9,959.2 L1634.4,959.1 L1634.9,958.2 L1635.9,955.0 L1636.9,950.8 L1637.9,944.8 L1638.9,936.8 L1639.9,927.6 L1640.9,916.2 L1641.9,906.8 L1642.9,899.3 L1643.9,891.8 L1644.9,882.3 L1645.4,876.3 L1645.9,869.4 L1646.4,861.8 L1646.9,853.4 L1647.4,844.3 L1647.9,834.1 L1648.4,822.3 L1648.9,809.2 L1650.2,749.6 L1657.0,749.3" fill="none" stroke="#0000ff" stroke-width="2.9" stroke-linejoin="round"/>
<line x1="464.8" y1="579.3" x2="409.9" y2="781.0" stroke="#000" stroke-width="3.2"/><polygon points="402.6,808.0 402.5,776.9 418.4,781.2" fill="#000"/>
<line x1="1175.5" y1="968.8" x2="1147.2" y2="993.4" stroke="#000" stroke-width="3.2"/><polygon points="1126.0,1011.7 1143.3,985.8 1154.1,998.3" fill="#000"/>
<line x1="1209.3" y1="869.5" x2="1222.3" y2="946.2" stroke="#000" stroke-width="3.2"/><polygon points="1227.0,973.8 1213.8,945.6 1230.1,942.8" fill="#000"/>
<line x1="1275.0" y1="966.0" x2="1290.1" y2="1002.7" stroke="#000" stroke-width="3.2"/><polygon points="1300.8,1028.6 1281.7,1004.0 1297.0,997.7" fill="#000"/>
<line x1="1389.0" y1="1018.0" x2="1415.9" y2="1050.9" stroke="#000" stroke-width="3.2"/><polygon points="1433.7,1072.5 1408.3,1054.5 1421.1,1044.1" fill="#000"/>
<g stroke="#ff0000" fill="none">
<line x1="1176.5" y1="838" x2="1176.5" y2="1064" stroke-width="3" stroke-dasharray="4.5 2.7"/>
<line x1="1276.5" y1="838" x2="1276.5" y2="1064" stroke-width="3" stroke-dasharray="4.5 2.7"/>
<line x1="1209" y1="742" x2="1209" y2="967" stroke-width="2" stroke-dasharray="4.5 2.7"/>
<line x1="1389" y1="846" x2="1389" y2="1072" stroke-width="2" stroke-dasharray="4.5 2.7"/>
</g>
</svg></body></html>
